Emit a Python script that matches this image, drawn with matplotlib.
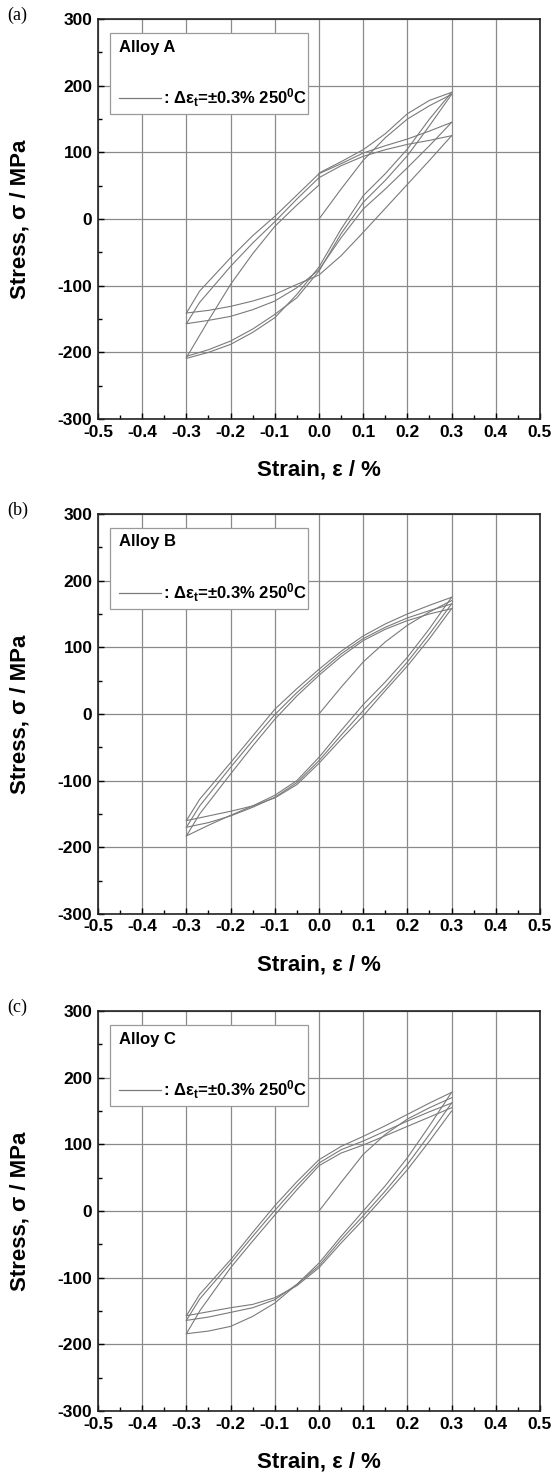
import matplotlib
matplotlib.use('Agg')
import matplotlib.pyplot as plt
from matplotlib.patches import Rectangle
from matplotlib.ticker import MultipleLocator, FormatStrFormatter

plt.rcParams['font.family'] = ['Liberation Sans', 'DejaVu Sans']
plt.rcParams['axes.unicode_minus'] = False
plt.rcParams['mathtext.fontset'] = 'custom'
plt.rcParams['mathtext.rm'] = 'Liberation Sans:bold'
plt.rcParams['mathtext.bf'] = 'Liberation Sans:bold'
plt.rcParams['mathtext.default'] = 'bf'

# strain grids (%)
strain_init = [0.0, 0.05, 0.1, 0.15, 0.2, 0.25, 0.3]
strain_up = [-0.3, -0.27, -0.2, -0.15, -0.1, -0.05, 0.0, 0.05, 0.1, 0.15, 0.2, 0.25, 0.3]
strain_down = [0.3, 0.25, 0.2, 0.15, 0.1, 0.05, 0.0, -0.05, -0.1, -0.15, -0.2, -0.25, -0.3]
strain_up_a3 = [-0.3, -0.25, -0.2, -0.15, -0.1, -0.05, 0.0, 0.0, 0.05, 0.1, 0.15, 0.2, 0.25, 0.3]

# Alloy A stress (MPa)
a_init = [0, 45, 88, 122, 150, 170, 187]
a_up1 = [-141, -108, -58, -25, 4, 36, 68, 83, 99, 110, 120, 132, 145]
a_up2 = [-157, -125, -71, -36, -4, 30, 62, 80, 94, 104, 112, 118, 125]
a_up3 = [-208, -152, -98, -52, -11, 21, 51, 69, 86, 104, 128, 158, 178, 190]
a_dn1 = [190, 150, 105, 68, 35, -15, -72, -113, -148, -170, -188, -200, -209]
a_dn2 = [187, 140, 95, 58, 25, -22, -78, -118, -143, -165, -183, -196, -206]
a_dn3 = [145, 110, 77, 45, 15, -28, -76, -103, -123, -136, -146, -152, -157]
a_dn4 = [125, 88, 52, 16, -20, -55, -84, -98, -113, -123, -131, -137, -141]

# Alloy B stress (MPa)
b_init = [0, 40, 78, 108, 133, 153, 170]
b_up1 = [-160, -128, -73, -33, 7, 38, 67, 94, 117, 135, 150, 163, 175]
b_up2 = [-170, -138, -80, -40, -1, 32, 62, 90, 113, 130, 144, 155, 165]
b_up3 = [-183, -150, -90, -48, -8, 27, 58, 86, 110, 127, 140, 150, 158]
b_dn1 = [175, 128, 85, 48, 14, -25, -65, -100, -122, -138, -152, -167, -183]
b_dn2 = [165, 120, 78, 40, 5, -32, -70, -103, -125, -140, -153, -163, -170]
b_dn3 = [158, 113, 72, 35, -3, -38, -74, -106, -126, -138, -146, -153, -160]

# Alloy C stress (MPa)
c_init = [0, 43, 85, 115, 138, 155, 170]
c_up1 = [-157, -125, -73, -32, 8, 44, 77, 97, 112, 128, 145, 162, 178]
c_up2 = [-164, -132, -78, -38, 1, 38, 72, 92, 105, 120, 135, 149, 162]
c_up3 = [-184, -150, -85, -45, -6, 32, 68, 87, 99, 113, 127, 141, 155]
c_dn1 = [178, 128, 80, 38, 0, -38, -78, -110, -138, -158, -173, -180, -184]
c_dn2 = [162, 115, 70, 30, -7, -43, -82, -110, -133, -145, -152, -159, -164]
c_dn3 = [150, 105, 62, 24, -13, -48, -85, -112, -130, -140, -145, -151, -157]

panels = [
    ('(a)', 'Alloy A', 0.7161,
     [(strain_init, a_init), (strain_up, a_up1), (strain_up, a_up2), (strain_up_a3, a_up3),
      (strain_down, a_dn1), (strain_down, a_dn2), (strain_down, a_dn3), (strain_down, a_dn4)]),
    ('(b)', 'Alloy B', 0.3808,
     [(strain_init, b_init), (strain_up, b_up1), (strain_up, b_up2), (strain_up, b_up3),
      (strain_down, b_dn1), (strain_down, b_dn2), (strain_down, b_dn3)]),
    ('(c)', 'Alloy C', 0.0440,
     [(strain_init, c_init), (strain_up, c_up1), (strain_up, c_up2), (strain_up, c_up3),
      (strain_down, c_dn1), (strain_down, c_dn2), (strain_down, c_dn3)]),
]

curve_col = '#7a7a7a'
fig = plt.figure(figsize=(5.54, 14.76), dpi=100)

for tag, alloy, bottom, branches in panels:
    ax = fig.add_axes([0.1769, bottom, 0.7978, 0.2710])
    for sx, sy in branches:
        ax.plot(sx, sy, color=curve_col, lw=0.8)

    ax.set_xlim(-0.5, 0.5)
    ax.set_ylim(-300, 300)
    ax.xaxis.set_major_locator(MultipleLocator(0.1))
    ax.xaxis.set_minor_locator(MultipleLocator(0.05))
    ax.xaxis.set_major_formatter(FormatStrFormatter('%.1f'))
    ax.yaxis.set_major_locator(MultipleLocator(100))
    ax.yaxis.set_minor_locator(MultipleLocator(50))
    ax.grid(True, which='major', color='#8a8a8a', lw=0.9)
    ax.set_axisbelow(True)
    ax.tick_params(which='both', direction='in', top=False, right=False,
                   labelsize=12.5, width=1)
    ax.tick_params(which='major', length=4, pad=4)
    ax.tick_params(which='minor', length=3)
    for lab in ax.get_xticklabels() + ax.get_yticklabels():
        lab.set_fontweight('bold')
    for sp in ax.spines.values():
        sp.set_linewidth(1.2)
        sp.set_color('#222222')

    # legend box
    ax.add_patch(Rectangle((0.027, 0.7625), 0.448, 0.2025, transform=ax.transAxes,
                           facecolor='white', edgecolor='#9a9a9a', lw=0.9, zorder=5))
    ax.text(0.0475, 0.93, alloy, transform=ax.transAxes, fontsize=12,
            fontweight='bold', va='center', ha='left', zorder=6)
    ax.plot([0.0475, 0.1425], [0.8025, 0.8025], transform=ax.transAxes,
            color=curve_col, lw=0.9, zorder=6)
    ax.text(0.146, 0.8025, r': $\Delta\epsilon_t$=±0.3% 250$^0$C', transform=ax.transAxes,
            fontsize=12, fontweight='bold', va='center', ha='left', zorder=6)

    ax.text(0.5, -0.128, 'Strain, ε / %', transform=ax.transAxes, ha='center',
            va='center', fontsize=16, fontweight='bold')
    ax.text(-0.1765, 0.5, 'Stress, σ / MPa', transform=ax.transAxes, ha='center',
            va='center', rotation=90, fontsize=16, fontweight='bold')
    ax.text(-0.206, 1.01, tag, transform=ax.transAxes, ha='left', va='center',
            fontsize=13, family='Liberation Serif')

fig.savefig('out.png', dpi=100)
